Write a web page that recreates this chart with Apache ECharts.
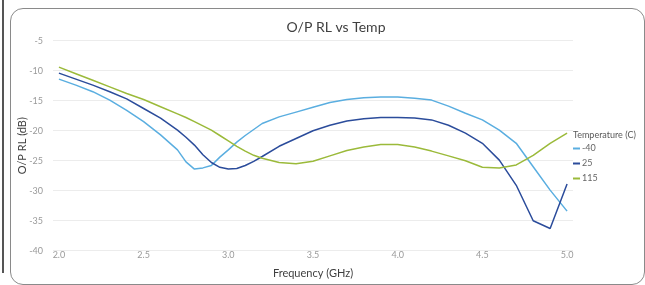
<!DOCTYPE html>
<html>
<head>
<meta charset="utf-8">
<script src="https://cdn.jsdelivr.net/npm/echarts@6/dist/echarts.min.js"></script>
<style>
  html, body { margin: 0; padding: 0; background: #fff; }
  #wrap { position: relative; width: 645px; height: 285px; overflow: hidden; }
  #chart { width: 645px; height: 285px; }
  .frame { position: absolute; left: 10px; top: 8px; width: 633px; height: 275px;
           border: 1px solid #8a8a8a; border-radius: 13px; pointer-events: none; }
  .edge { position: absolute; left: 2px; top: 0; width: 2px; height: 273px; background: #555; }
</style>
</head>
<body>
<div id="wrap">
  <div id="chart"></div>
  <div class="frame"></div>
  <div class="edge"></div>
</div>
<script>
// frequency points (GHz)
var freq = [2.0, 2.1, 2.2, 2.3, 2.4, 2.5, 2.6, 2.7, 2.75, 2.8, 2.85, 2.9, 2.95, 3.0, 3.05, 3.1, 3.15, 3.2,
            3.3, 3.4, 3.5, 3.6, 3.7, 3.8, 3.9, 4.0, 4.1, 4.2, 4.3, 4.4, 4.5, 4.6, 4.7, 4.8, 4.9, 5.0];
// O/P RL (dB) per temperature
var rlM40 = [-11.4, -12.4, -13.5, -14.9, -16.6, -18.5, -20.7, -23.2, -25.2, -26.4, -26.2, -25.8, -24.4, -23.2, -21.9, -20.8, -19.8, -18.8,
             -17.7, -16.9, -16.1, -15.3, -14.8, -14.5, -14.4, -14.4, -14.6, -14.9, -15.9, -17.1, -18.2, -19.9, -22.1, -26.0, -29.9, -33.4];
var rl25 = [-10.4, -11.4, -12.4, -13.5, -14.7, -16.3, -17.9, -19.9, -21.1, -22.4, -24.0, -25.3, -26.1, -26.4, -26.3, -25.8, -25.1, -24.3,
            -22.6, -21.3, -20.0, -19.1, -18.4, -18.0, -17.8, -17.8, -17.9, -18.2, -19.1, -20.4, -22.1, -24.9, -29.1, -35.0, -36.3, -28.9];
var rl115 = [-9.4, -10.5, -11.6, -12.7, -13.8, -14.8, -16.0, -17.2, -17.8, -18.5, -19.2, -19.9, -20.8, -21.7, -22.6, -23.4, -24.1, -24.6,
             -25.3, -25.5, -25.1, -24.2, -23.3, -22.7, -22.3, -22.3, -22.7, -23.4, -24.2, -25.0, -26.1, -26.2, -25.7, -24.1, -22.1, -20.4];
var xTicks = [2.0, 2.5, 3.0, 3.5, 4.0, 4.5, 5.0];
var seriesNames = ['-40', '25', '115'];
var colors = ['#5aaee0', '#2b4c9b', '#9bba3a'];

function pairs(vals) {
  return freq.map(function (f, i) { return [f, vals[i]]; });
}

var chart = echarts.init(document.getElementById('chart'));
var font = 'Lato, "Open Sans", sans-serif';

chart.setOption({
  animation: false,
  color: colors,
  textStyle: { fontFamily: font },
  title: [{
    text: 'O/P RL vs Temp',
    left: 331, top: 15, textAlign: 'center',
    textStyle: { fontSize: 14, fontWeight: 'normal', color: '#404040', fontFamily: font }
  }, {
    text: 'Temperature (C)',
    left: 568, top: 126,
    textStyle: { fontSize: 9, fontWeight: 'normal', color: '#595959', fontFamily: font }
  }],
  legend: {
    orient: 'vertical',
    left: 568, top: 139,
    itemWidth: 7, itemHeight: 2, itemGap: 6,
    icon: 'rect',
    textStyle: { fontSize: 9, color: '#666', padding: [0, 0, 0, -3] },
    data: seriesNames
  },
  grid: { left: 53, right: 72, top: 40.7, bottom: 34.3 },
  xAxis: {
    type: 'value',
    min: 1.965, max: 5.035,
    name: 'Frequency (GHz)',
    nameLocation: 'middle', nameGap: 17,
    nameTextStyle: { fontSize: 11, color: '#404040' },
    axisLine: { show: false },
    axisTick: { show: false },
    splitLine: { show: false },
    axisLabel: {
      customValues: xTicks,
      margin: 0,
      fontSize: 9, color: '#9a9a9a',
      formatter: function (v) { return v.toFixed(1); }
    }
  },
  yAxis: {
    type: 'value',
    min: -40, max: -5, interval: 5,
    name: 'O/P RL (dB)',
    nameLocation: 'middle', nameGap: 25,
    nameMoveOverlap: false,
    nameTextStyle: { fontSize: 11, color: '#404040' },
    axisLine: { show: false },
    axisTick: { show: false },
    axisLabel: { fontSize: 9, color: '#9a9a9a', margin: 10 },
    splitLine: { lineStyle: { color: '#ececec', width: 1 } }
  },
  series: [
    { name: seriesNames[0], type: 'line', data: pairs(rlM40), showSymbol: false, lineStyle: { width: 1.5 } },
    { name: seriesNames[1], type: 'line', data: pairs(rl25), showSymbol: false, lineStyle: { width: 1.5 } },
    { name: seriesNames[2], type: 'line', data: pairs(rl115), showSymbol: false, lineStyle: { width: 1.5 } }
  ]
});
</script>
</body>
</html>
